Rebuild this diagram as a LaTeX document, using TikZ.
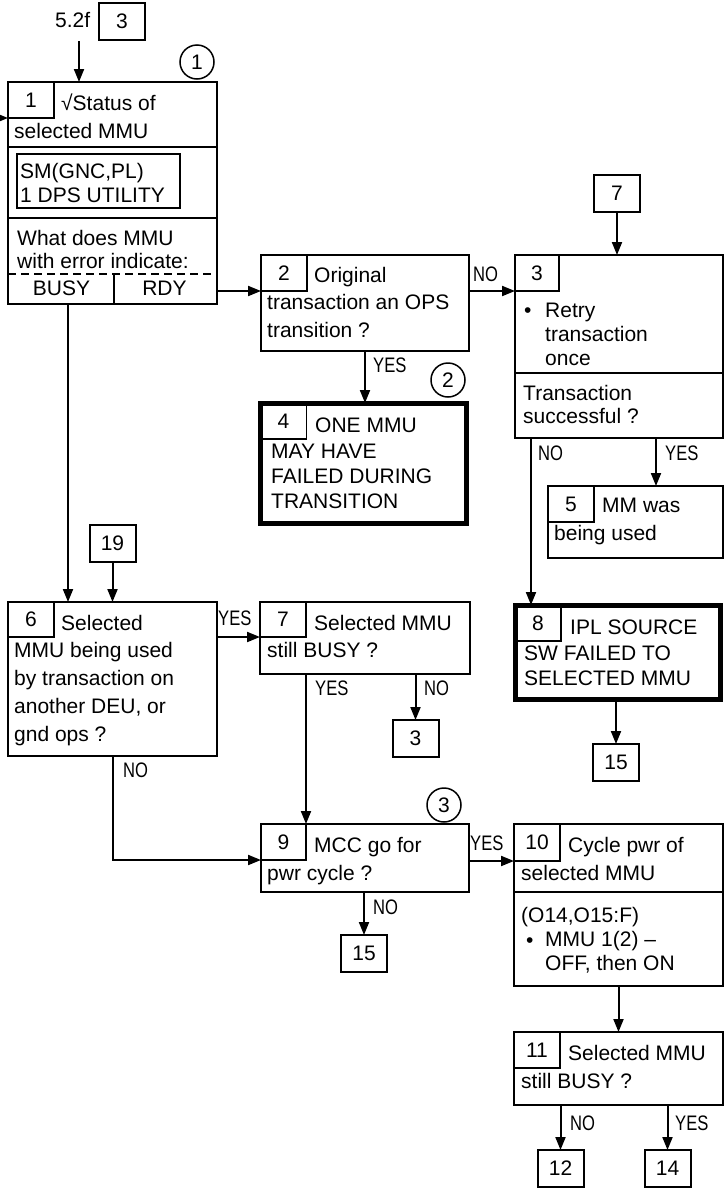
\documentclass[tikz,border=0pt]{standalone}
\usepackage{fontspec}
\setmainfont{Liberation Sans}
\newfontfamily\narrowfont[FakeStretch=0.79]{Liberation Sans}
\usetikzlibrary{arrows.meta,positioning}

\tikzset{
    box/.style={draw, line width=2pt, inner sep=0pt, outer sep=0pt, anchor=north west},
    heavybox/.style={box, line width=5pt},
    numbox/.style={draw, line width=1.3pt, inner sep=0pt, outer sep=0pt, anchor=north west,
        minimum width=46pt, minimum height=36pt},
    gotobox/.style={draw, line width=2pt, inner sep=0pt, outer sep=0pt,
        minimum width=46pt, minimum height=37pt},
    stepno/.style={circle, draw, line width=1.5pt, inner sep=0pt, minimum size=34pt},
    txt/.style={anchor=base west, inner sep=0pt, align=left},
    tight/.style={font=\fontsize{21}{24}\selectfont},
    yesno/.style={anchor=west, inner sep=0pt, font=\narrowfont\fontsize{21}{24}\selectfont},
    arr/.style={line width=2pt, -{Triangle[length=13pt,width=10pt]}}
}

\begin{document}
\begin{tikzpicture}[x=1pt, y=-1pt, font=\fontsize{21}{27.5}\selectfont]
    \useasboundingbox (0,0) rectangle (727,1189);

    \node[txt] (from52) at (55,27) {5.2f};
    \node[gotobox] (go3a) at (122,21.5) {3};
    \node[stepno] (c1) at (197,62) {1};
    \node[box, minimum width=209pt, minimum height=222pt] (b1) at (8,82) {};
    \node[numbox] (n1) at (b1.north west) {1};
    \node[txt] (b1a) at (61,110) {√Status of};
    \node[txt] (b1b) at (14,138) {selected MMU};
    \draw[line width=2pt] ([yshift=-65pt]b1.north west) -- ([yshift=-65pt]b1.north east);
    \node[box, line width=1.5pt, minimum width=163pt, minimum height=54pt] (sm) at (17,154) {};
    \node[txt, tight] (sma) at (20,202) {SM(GNC,PL)\\1 DPS UTILITY};
    \draw[line width=2pt] ([yshift=-136pt]b1.north west) -- ([yshift=-136pt]b1.north east);
    \node[txt, font=\fontsize{21}{23}\selectfont] (b1c) at (17,268) {What does MMU\\with error indicate:};
    \draw[line width=2pt, dash pattern=on 8pt off 5pt]
        ([yshift=-192pt]b1.north west) -- ([yshift=-192pt]b1.north east);
    \draw[line width=2pt] ([xshift=106pt,yshift=-192pt]b1.north west) -- ([xshift=106pt]b1.south west);
    \node[inner sep=0pt] (busy) at (61.5,288) {BUSY};
    \node[inner sep=0pt] (rdy) at (164.5,288) {RDY};

    \node[box, minimum width=208pt, minimum height=96pt] (b2) at (261,255) {};
    \node[numbox] (n2) at (b2.north west) {2};
    \node[txt] (b2a) at (314,282) {Original};
    \node[txt] (b2b) at (267,337) {transaction an OPS\\transition ?};

    \node[gotobox] (go7) at (617,193.5) {7};
    \node[box, minimum width=208pt, minimum height=183pt] (b3) at (515,255) {};
    \node[numbox, minimum width=44pt] (n3) at (b3.north west) {3};
    \node[txt] (b3dot) at (524,317) {•};
    \node[txt, tight] (b3a) at (545,365) {Retry\\transaction\\once};
    \draw[line width=2pt] ([yshift=-118pt]b3.north west) -- ([yshift=-118pt]b3.north east);
    \node[txt, font=\fontsize{21}{23}\selectfont] (b3b) at (523,423) {Transaction\\successful ?};

    \node[stepno] (c2) at (448,380) {2};
    \node[heavybox, minimum width=205.5pt, minimum height=120pt] (b4) at (260.5,403) {};
    \node[numbox] (n4) at (b4.north west) {4};
    \node[txt] (b4a) at (315,432) {ONE MMU};
    \node[txt, font=\fontsize{21}{25}\selectfont] (b4b) at (271,508) {MAY HAVE\\FAILED DURING\\TRANSITION};

    \node[box, minimum width=175pt, minimum height=72pt] (b5) at (548,486) {};
    \node[numbox] (n5) at (b5.north west) {5};
    \node[txt] (b5a) at (602,512) {MM was};
    \node[txt] (b5b) at (554,540) {being used};

    \node[gotobox] (go19) at (112.5,543.5) {19};
    \node[box, minimum width=209pt, minimum height=154pt] (b6) at (8,602) {};
    \node[numbox, minimum height=35pt] (n6) at (b6.north west) {6};
    \node[txt] (b6a) at (61,630) {Selected};
    \node[txt, font=\fontsize{21}{28}\selectfont] (b6b) at (14,741)
        {MMU being used\\by transaction on\\another DEU, or\\gnd ops ?};

    \node[box, minimum width=210pt, minimum height=72pt] (b7) at (260,602) {};
    \node[numbox, minimum height=35pt] (n7) at (b7.north west) {7};
    \node[txt] (b7a) at (314,630) {Selected MMU};
    \node[txt] (b7b) at (267,657) {still BUSY ?};
    \node[gotobox] (go3b) at (415.5,738.5) {3};

    \node[heavybox, minimum width=205pt, minimum height=94pt] (b8) at (515,605) {};
    \node[numbox] (n8) at (b8.north west) {8};
    \node[txt] (b8a) at (570,634) {IPL SOURCE};
    \node[txt, font=\fontsize{21}{25}\selectfont] (b8b) at (524,685) {SW FAILED TO\\SELECTED MMU};
    \node[gotobox] (go15a) at (616,762.5) {15};

    \node[stepno] (c3) at (444,805) {3};
    \node[box, minimum width=208pt, minimum height=68pt] (b9) at (261,824) {};
    \node[numbox, minimum width=45pt] (n9) at (b9.north west) {9};
    \node[txt] (b9a) at (314,852) {MCC go for};
    \node[txt] (b9b) at (267,880) {pwr cycle ?};
    \node[gotobox] (go15b) at (364,953.5) {15};

    \node[box, minimum width=209pt, minimum height=162pt] (b10) at (514,824) {};
    \node[numbox, minimum height=37pt] (n10) at (b10.north west) {10};
    \node[txt] (b10a) at (568,852) {Cycle pwr of};
    \node[txt] (b10b) at (521,880) {selected MMU};
    \draw[line width=2pt] ([yshift=-68pt]b10.north west) -- ([yshift=-68pt]b10.north east);
    \node[txt] (b10c) at (521,922) {(O14,O15:F)};
    \node[txt] (b10dot) at (526,947) {•};
    \node[txt, font=\fontsize{21}{23.5}\selectfont] (b10d) at (545,970) {MMU 1(2) –\\OFF, then ON};

    \node[box, minimum width=209pt, minimum height=73pt] (b11) at (514,1032) {};
    \node[numbox] (n11) at (b11.north west) {11};
    \node[txt] (b11a) at (568,1060) {Selected MMU};
    \node[txt] (b11b) at (521,1088) {still BUSY ?};
    \node[gotobox] (go12) at (560.5,1168.5) {12};
    \node[gotobox] (go14) at (667.5,1168.5) {14};

    \coordinate (src52) at (79,41);
    \coordinate (srcleft) at (-5,118);
    \coordinate (busyout) at (68,304);
    \coordinate (col3no) at (531,0);
    \coordinate (col3yes) at (656,0);

    \draw[arr] (src52) -- (src52 |- b1.north);
    \draw[arr] (srcleft) -- (n1.south west);
    \draw[arr] (b1.east |- n2.south west) -- (n2.south west);
    \draw[arr] (busyout) -- (busyout |- b6.north);
    \draw[arr] (b2.east |- n3.south west) -- (n3.south west);
    \draw[arr] (go7.south) -- (go7.south |- b3.north);
    \draw[arr] (b2.south) -- (b2.south |- b4.north);
    \draw[arr] (b3.south -| col3no) -- (b8.north -| col3no);
    \draw[arr] (b3.south -| col3yes) -- (b5.north -| col3yes);
    \draw[arr] (b8.south -| go15a) -- (go15a.north);
    \draw[arr] (go19.south) -- (go19.south |- b6.north);
    \draw[arr] (b6.east |- n7.south west) -- (n7.south west);
    \draw[arr] (b7.south -| n9.north east) -- (n9.north east);
    \draw[arr] (b7.south -| go3b) -- (go3b.north);
    \draw[arr] (b6.south -| go19) |- (n9.south west);
    \draw[arr] (b9.east |- n10.south west) -- (n10.south west);
    \draw[arr] (b9.south -| go15b) -- (go15b.north);
    \draw[arr] (b10.south) -- (b11.north);
    \draw[arr] (b11.south -| go12) -- (go12.north);
    \draw[arr] (b11.south -| go14) -- (go14.north);

    \node[yesno] (no23) at (473,274) {NO};
    \node[yesno] (yes24) at (373,365) {YES};
    \node[yesno] (no38) at (538,453) {NO};
    \node[yesno] (yes35) at (665,453) {YES};
    \node[yesno] (yes67) at (218,618) {YES};
    \node[yesno] (yes79) at (315,688) {YES};
    \node[yesno] (no73) at (424,688) {NO};
    \node[yesno] (no69) at (123,770) {NO};
    \node[yesno] (yes910) at (470,843) {YES};
    \node[yesno] (no915) at (373,907) {NO};
    \node[yesno] (no1112) at (570,1123) {NO};
    \node[yesno] (yes1114) at (675,1123) {YES};
\end{tikzpicture}
\end{document}
